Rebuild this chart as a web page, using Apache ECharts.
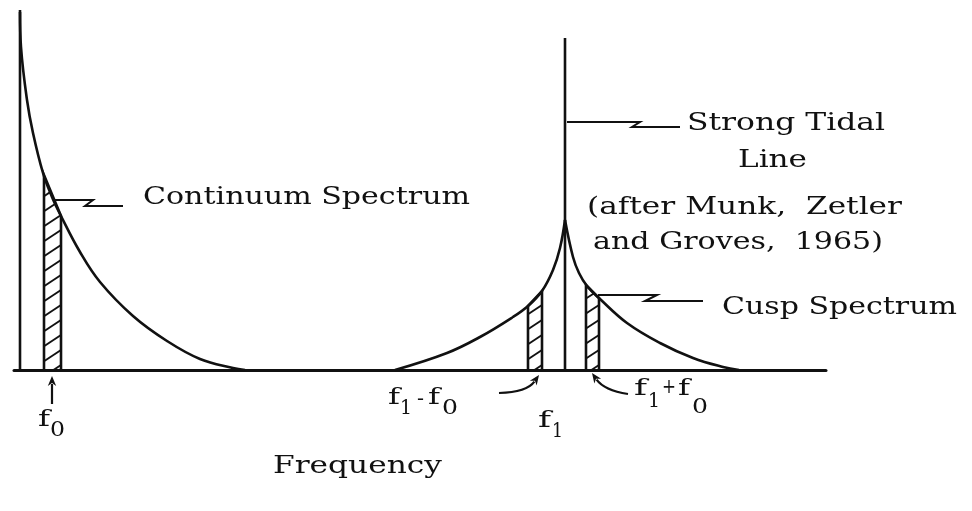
<!DOCTYPE html>
<html>
<head>
<meta charset="utf-8">
<script src="https://cdn.jsdelivr.net/npm/echarts@6/dist/echarts.min.js"></script>
<style>
  html, body { margin: 0; padding: 0; background: #ffffff; }
  #chart { width: 972px; height: 511px; }
</style>
</head>
<body>
<div id="chart"></div>
<script>
// Schematic spectrum: frequency and spectral level in arbitrary units.
const continuum = [[6, 358], [7, 323], [13, 270], [19, 237], [29, 197], [38, 173], [46, 156], [66, 118], [86, 88], [119, 54], [153, 29], [186, 11], [219, 2], [231, 0]];
const cuspLower = [[381, 0], [433, 17], [466, 33], [499, 53], [514, 64], [528, 79], [539, 100], [546, 122], [551, 150]];
const cuspUpper = [[551, 150], [559, 113], [565, 97], [573, 84], [586, 71], [613, 47], [646, 27], [679, 12], [709, 3], [725, 0]];
const zeroSpike = [[6, 0], [6, 360]];
const tidalLine = [[551, 0], [551, 332]];
// Hatched bands: [from, to, level at from, level at to]
const bands = [[30, 47, 195, 154], [514, 528, 64, 79], [572, 585, 85, 72]];

const INK = '#111111';
const FONT = '"DejaVu Serif", "Liberation Serif", serif';

const chart = echarts.init(document.getElementById('chart'), null, { renderer: 'canvas' });

function curve(data, smooth) {
  return {
    type: 'line',
    data: data,
    showSymbol: false,
    symbol: 'none',
    smooth: smooth,
    clip: false,
    silent: true,
    lineStyle: { color: INK, width: 2.6 }
  };
}

// Draws one hatched band: outline plus "/" hatching clipped under its top edge.
function renderBand(params, api) {
  const x0 = api.value(0), x1 = api.value(1), t0 = api.value(2), t1 = api.value(3);
  const b0 = api.coord([x0, 0]), b1 = api.coord([x1, 0]);
  const q0 = api.coord([x0, t0]), q1 = api.coord([x1, t1]);
  const w = b1[0] - b0[0], yb = b0[1], dq = q1[1] - q0[1];
  const rise = w * 0.66, gap = 15;
  const children = [{
    type: 'polyline',
    shape: { points: [b0, q0, q1, b1] },
    style: { stroke: INK, lineWidth: 2.6, fill: null }
  }];
  const yStop = Math.min(q0[1], q1[1]) - rise - gap;
  for (let yA = yb + rise - 5; yA > yStop; yA -= gap) {
    let tMin = Math.max(0, (yA - yb) / rise);
    let tMax = 1;
    const a = rise + dq, c = yA - q0[1];
    if (a > 0) tMax = Math.min(tMax, c / a);
    else if (a < 0) tMin = Math.max(tMin, c / a);
    else if (c < 0) continue;
    if (tMax - tMin > 0.1) {
      children.push({
        type: 'line',
        shape: { x1: b0[0] + w * tMin, y1: yA - rise * tMin, x2: b0[0] + w * tMax, y2: yA - rise * tMax },
        style: { stroke: INK, lineWidth: 1.9 }
      });
    }
  }
  return { type: 'group', children: children };
}

// Text stretched horizontally to a given span (typewriter-like spacing).
const measureCtx = document.createElement('canvas').getContext('2d');
function label(str, left, right, cy, size) {
  const font = size + 'px ' + FONT;
  measureCtx.font = font;
  const w = measureCtx.measureText(str).width;
  return {
    type: 'text', x: left, y: cy, scaleX: (right - left) / w, silent: true, z: 10,
    style: { text: str, font: font, fill: INK, align: 'left', textAlign: 'left', verticalAlign: 'middle', textVerticalAlign: 'middle' }
  };
}

function leader(points) {
  return { type: 'polyline', silent: true, z: 10, shape: { points: points }, style: { stroke: INK, lineWidth: 2, fill: null } };
}

function arrow(p0, c, p1) {
  const dx = p1[0] - c[0], dy = p1[1] - c[1];
  const len = Math.hypot(dx, dy), ux = dx / len, uy = dy / len;
  const L = 10, W = 4.2;
  const base = [p1[0] - ux * L, p1[1] - uy * L];
  return [
    { type: 'bezierCurve', silent: true, z: 10,
      shape: { x1: p0[0], y1: p0[1], cpx1: c[0], cpy1: c[1], x2: base[0] + ux * 2, y2: base[1] + uy * 2 },
      style: { stroke: INK, lineWidth: 2.2, fill: null } },
    { type: 'polygon', silent: true, z: 10,
      shape: { points: [p1, [base[0] - uy * W, base[1] + ux * W], [base[0] + ux * 3, base[1] + uy * 3], [base[0] + uy * W, base[1] - ux * W]] },
      style: { fill: INK } }
  ];
}

const graphics = [
  label('Continuum Spectrum', 143, 470, 197, 25),
  leader([[54, 200], [93, 200], [85, 206], [123, 206]]),
  label('Strong Tidal', 687, 885, 123, 25),
  label('Line', 738, 807, 160, 25),
  leader([[567, 122], [640, 122], [632, 127], [680, 127]]),
  label('(after Munk,  Zetler', 587, 902, 207, 25),
  label('and Groves,  1965)', 593, 883, 242, 25),
  label('Cusp Spectrum', 722, 957, 307, 25),
  leader([[598, 295], [657, 295], [645, 301], [703, 301]]),

  label('f', 38, 50, 420, 22),
  label('0', 50, 65, 431, 20),
  label('f', 388, 400, 398, 22),
  label('1', 400, 412, 409, 20),
  label('-', 417, 424, 400, 20),
  label('f', 428, 440, 398, 22),
  label('0', 442, 458, 409, 20),
  label('f', 538, 551, 421, 22),
  label('1', 552, 563, 432, 20),
  label('f', 634, 647, 389, 22),
  label('1', 648, 660, 402, 20),
  label('+', 662, 676, 388, 20),
  label('f', 678, 690, 389, 22),
  label('0', 692, 708, 408, 20),

  label('Frequency', 273, 442, 466, 25)
].concat(
  arrow([52, 404], [52, 392], [52, 376]),
  arrow([499, 393], [527, 392], [539, 375]),
  arrow([628, 394], [604, 390], [592, 373])
);

chart.setOption({
  animation: false,
  backgroundColor: '#ffffff',
  grid: { left: 14, right: 146, top: 10, bottom: 141, containLabel: false },
  xAxis: {
    type: 'value', min: 0, max: 812,
    axisLine: { show: true, onZero: true, lineStyle: { color: INK, width: 3 } },
    axisTick: { show: false }, axisLabel: { show: false }, splitLine: { show: false }
  },
  yAxis: {
    type: 'value', min: 0, max: 360, show: false,
    splitLine: { show: false }
  },
  series: [
    curve(continuum, 0.4),
    curve(cuspLower, 0.4),
    curve(cuspUpper, 0.4),
    curve(zeroSpike, false),
    curve(tidalLine, false),
    {
      type: 'custom',
      data: bands,
      encode: { x: [0, 1], y: [2, 3] },
      renderItem: renderBand,
      silent: true,
      clip: false
    }
  ],
  graphic: graphics
});
</script>
</body>
</html>
